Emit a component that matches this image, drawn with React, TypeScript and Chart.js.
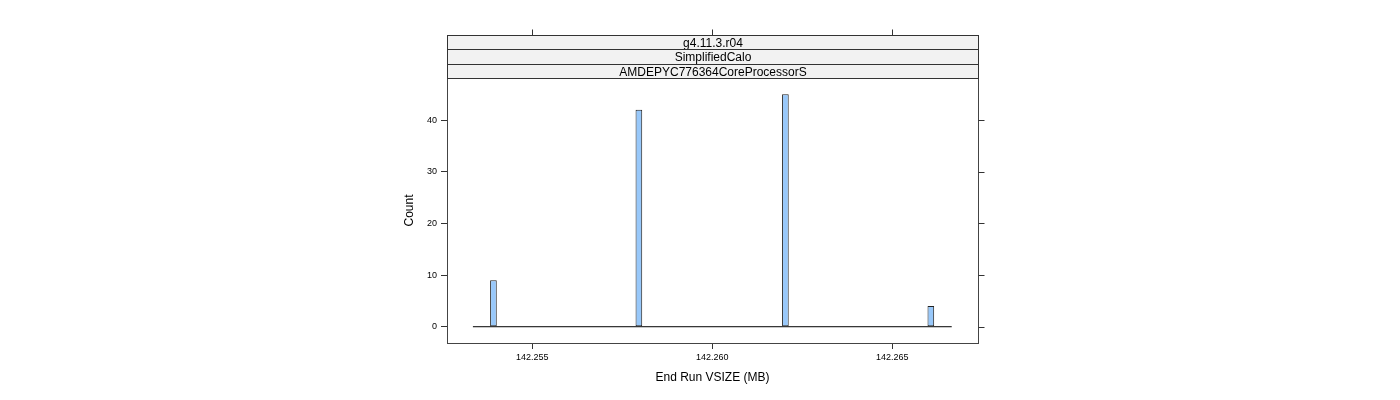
import { useEffect, useRef } from "react";
import { Chart, registerables } from "chart.js";

Chart.register(...registerables);

// histogram of End Run VSIZE (MB): bin centres and counts
const binCenters = [142.25392, 142.25796, 142.26203, 142.26607];
const counts = [9, 42, 45, 4];
const binWidth = 0.000185;
// full span of the histogram bins (zero-count bins draw the baseline)
const histRange = [142.25335, 142.26665];
const xRange = [142.25263, 142.26738];
const yRange = [-3.15, 48.15];
const xTicks = [142.255, 142.26, 142.265];
const yTicks = [0, 10, 20, 30, 40];
const stripLabels = ["g4.11.3.r04", "SimplifiedCalo", "AMDEPYC776364CoreProcessorS"];

const FONT = "'Liberation Sans', Arial, Helvetica, sans-serif";

const latticePlugin = {
  id: "lattice",
  afterDraw(chart: any) {
    const { ctx, chartArea: a, scales } = chart;
    const h = 14.4;
    const left = Math.round(a.left) + 0.5;
    const right = Math.round(a.right) + 0.5;
    const top = Math.round(a.top) + 0.5;
    const bottom = Math.round(a.bottom) + 0.5;
    ctx.save();
    ctx.lineWidth = 1;
    ctx.strokeStyle = "#444";
    ctx.strokeRect(left, top, right - left, bottom - top);

    // strips above the panel
    ctx.font = `12px ${FONT}`;
    ctx.textAlign = "center";
    ctx.textBaseline = "middle";
    stripLabels.forEach((label, i) => {
      const y0 = Math.round(a.top - (stripLabels.length - i) * h) + 0.5;
      const y1 = Math.round(a.top - (stripLabels.length - i - 1) * h) + 0.5;
      ctx.fillStyle = "#f2f2f2";
      ctx.fillRect(left, y0, right - left, y1 - y0);
      ctx.strokeStyle = "#333";
      ctx.strokeRect(left, y0, right - left, y1 - y0);
      ctx.fillStyle = "#000";
      ctx.fillText(label, (left + right) / 2, (y0 + y1) / 2 + 1);
    });

    // top ticks (above strips) and right ticks
    const stripTop = Math.round(a.top - stripLabels.length * h) + 0.5;
    ctx.strokeStyle = "#333";
    ctx.beginPath();
    xTicks.forEach((v) => {
      const x = Math.round(scales.x.getPixelForValue(v)) + 0.5;
      ctx.moveTo(x, stripTop);
      ctx.lineTo(x, stripTop - 6);
    });
    yTicks.forEach((v) => {
      const y = Math.round(scales.y.getPixelForValue(v)) + 0.5;
      ctx.moveTo(right, y);
      ctx.lineTo(right + 6, y);
    });
    ctx.stroke();
    ctx.restore();
  },
};

export default function App() {
  const chartRef = useRef<HTMLCanvasElement>(null);
  const chartInstance = useRef<Chart | null>(null);

  useEffect(() => {
    document.body.style.margin = "0";
    if (!chartRef.current) return;
    const ctx = chartRef.current.getContext("2d");
    if (!ctx) return;
    if (chartInstance.current) chartInstance.current.destroy();

    let minGap = Infinity;
    for (let i = 1; i < binCenters.length; i++) {
      minGap = Math.min(minGap, binCenters[i] - binCenters[i - 1]);
    }

    chartInstance.current = new Chart(ctx, {
      type: "bar",
      data: {
        datasets: [
          {
            type: "bar",
            data: binCenters.map((x, i) => ({ x, y: counts[i] })),
            backgroundColor: "#98c8fa",
            borderColor: "#222",
            borderWidth: 1,
            borderSkipped: false,
            categoryPercentage: 1,
            barPercentage: binWidth / minGap,
            order: 0,
          } as any,
          {
            type: "line",
            data: histRange.map((x) => ({ x, y: 0 })),
            borderColor: "#000",
            borderWidth: 1,
            pointRadius: 0,
            order: 1,
          } as any,
        ],
      },
      options: {
        animation: false,
        responsive: true,
        maintainAspectRatio: false,
        layout: { padding: { left: 387, right: 422, top: 78, bottom: 0 } },
        plugins: { legend: { display: false }, tooltip: { enabled: false } },
        scales: {
          x: {
            type: "linear",
            offset: false,
            min: xRange[0],
            max: xRange[1],
            afterBuildTicks: (scale: any) => {
              scale.ticks = xTicks.map((value) => ({ value }));
            },
            afterFit: (scale: any) => {
              scale.height = 57;
            },
            ticks: {
              color: "#000",
              font: { family: FONT, size: 9 },
              padding: 3,
              maxRotation: 0,
              callback: (v: any) => Number(v).toFixed(3),
            },
            grid: {
              offset: false,
              drawOnChartArea: false,
              drawTicks: true,
              tickLength: 6,
              tickColor: "#333",
            },
            border: { display: false },
            title: {
              display: true,
              text: "End Run VSIZE (MB)",
              color: "#000",
              font: { family: FONT, size: 12 },
              padding: { top: 0, bottom: 15 },
            },
          },
          y: {
            type: "linear",
            min: yRange[0],
            max: yRange[1],
            afterBuildTicks: (scale: any) => {
              scale.ticks = yTicks.map((value) => ({ value }));
            },
            afterFit: (scale: any) => {
              scale.width = 60;
            },
            ticks: {
              color: "#000",
              font: { family: FONT, size: 9 },
              padding: 4,
            },
            grid: { drawOnChartArea: false, drawTicks: true, tickLength: 6, tickColor: "#333" },
            border: { display: false },
            title: {
              display: true,
              text: "Count",
              color: "#000",
              font: { family: FONT, size: 12 },
              padding: { top: 15, bottom: 0 },
            },
          },
        },
      },
      plugins: [latticePlugin],
    });

    return () => {
      if (chartInstance.current) {
        chartInstance.current.destroy();
        chartInstance.current = null;
      }
    };
  }, []);

  return (
    <div style={{ position: "relative", width: 1400, height: 400 }}>
      <canvas ref={chartRef}></canvas>
    </div>
  );
}
